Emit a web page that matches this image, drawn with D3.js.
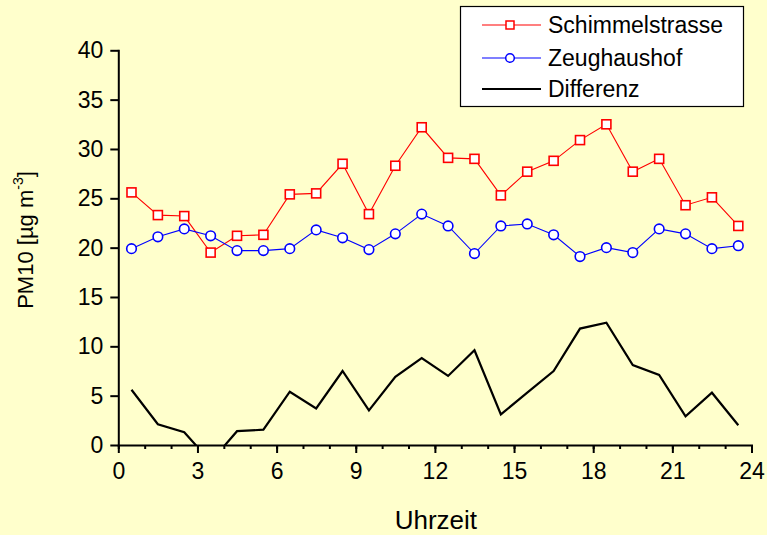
<!DOCTYPE html>
<html>
<head>
<meta charset="utf-8">
<script src="https://cdn.jsdelivr.net/npm/d3@7"></script>
<style>
  html, body { margin: 0; padding: 0; background: #FFFFCC; }
  svg { display: block; }
  text { font-family: "Liberation Sans", Arial, sans-serif; fill: #000; }
</style>
</head>
<body>
<svg id="chart" width="767" height="535"></svg>
<script>
// ---- data ----
const hours = [0.5,1.5,2.5,3.5,4.5,5.5,6.5,7.5,8.5,9.5,10.5,11.5,12.5,13.5,14.5,15.5,16.5,17.5,18.5,19.5,20.5,21.5,22.5,23.5];
const schimmelstrasse = [25.6,23.3,23.2,19.5,21.2,21.3,25.4,25.5,28.5,23.4,28.3,32.2,29.1,29.0,25.3,27.7,28.8,30.9,32.5,27.7,29.0,24.3,25.1,22.2];
const zeughaushof = [19.9,21.1,21.9,21.2,19.7,19.7,19.9,21.8,21.0,19.8,21.4,23.4,22.2,19.4,22.2,22.4,21.3,19.1,20.0,19.5,21.9,21.4,19.9,20.2];
const differenz = [5.6,2.1,1.3,-1.7,1.4,1.55,5.4,3.7,7.5,3.5,6.9,8.8,7.0,9.6,3.1,5.3,7.5,11.8,12.4,8.1,7.1,2.9,5.3,2.0];
const xTicks = [0,3,6,9,12,15,18,21,24];
const xMinorTicks = d3.range(0, 25, 1);
const yTicks = [0,5,10,15,20,25,30,35,40];
const seriesNames = ["Schimmelstrasse", "Zeughaushof", "Differenz"];

// ---- layout ----
const svg = d3.select("#chart");
const x = d3.scaleLinear().domain([0, 24]).range([118.3, 751.5]);
const y = d3.scaleLinear().domain([0, 40]).range([445, 50.3]);

svg.append("rect").attr("width", 767).attr("height", 535).attr("fill", "#FFFFCC");

// clip for plot area
svg.append("defs").append("clipPath").attr("id", "plotclip")
  .append("rect")
  .attr("x", x(0)).attr("y", y(40) - 10)
  .attr("width", x(24) - x(0)).attr("height", y(0) - y(40) + 10);

// difference line (clipped at 0)
const gPlot = svg.append("g").attr("clip-path", "url(#plotclip)");
const line = d3.line().x((d, i) => x(hours[i])).y(d => y(d));
gPlot.append("path")
  .datum(differenz)
  .attr("d", line)
  .attr("fill", "none")
  .attr("stroke", "#000")
  .attr("stroke-width", 2.2)
  .attr("stroke-linejoin", "miter");

// red / blue series
svg.append("path").datum(schimmelstrasse).attr("d", line)
  .attr("fill", "none").attr("stroke", "#FF0000").attr("stroke-width", 1.1);
svg.append("path").datum(zeughaushof).attr("d", line)
  .attr("fill", "none").attr("stroke", "#0000FF").attr("stroke-width", 1.1);

const sq = 9;
svg.append("g").selectAll("rect").data(schimmelstrasse).join("rect")
  .attr("x", (d, i) => x(hours[i]) - sq / 2)
  .attr("y", d => y(d) - sq / 2)
  .attr("width", sq).attr("height", sq)
  .attr("fill", "#fff").attr("stroke", "#FF0000").attr("stroke-width", 1.6);

svg.append("g").selectAll("circle").data(zeughaushof).join("circle")
  .attr("cx", (d, i) => x(hours[i]))
  .attr("cy", d => y(d))
  .attr("r", 4.8)
  .attr("fill", "#fff").attr("stroke", "#0000FF").attr("stroke-width", 1.6);

// ---- axes ----
const xMinor = svg.append("g").attr("transform", `translate(0,${y(0)})`)
  .call(d3.axisBottom(x).tickValues(xMinorTicks).tickSize(4).tickSizeOuter(0).tickFormat(""));
xMinor.select(".domain").remove();
xMinor.selectAll("line").attr("stroke-width", 2);

const xAxis = svg.append("g").attr("transform", `translate(0,${y(0)})`)
  .call(d3.axisBottom(x).tickValues(xTicks).tickSize(8).tickSizeOuter(0).tickPadding(10));
const yAxis = svg.append("g").attr("transform", `translate(${x(0)},0)`)
  .call(d3.axisLeft(y).tickValues(yTicks).tickSize(8).tickSizeOuter(0).tickPadding(7));

[xAxis, yAxis].forEach(g => {
  g.select(".domain").attr("stroke-width", 2).attr("stroke-linecap", "square");
  g.selectAll(".tick line").attr("stroke-width", 2);
  g.selectAll("text").attr("font-size", 23).attr("font-family", '"Liberation Sans", Arial, sans-serif').attr("fill", "#000");
});
xAxis.selectAll("text").attr("dy", "0.69em");

// axis titles
svg.append("text")
  .attr("x", (x(0) + x(24)) / 2 + 1)
  .attr("y", 529)
  .attr("text-anchor", "middle")
  .attr("font-size", 26)
  .text("Uhrzeit");

const yt = svg.append("text")
  .attr("transform", "translate(33,240) rotate(-90)")
  .attr("text-anchor", "middle")
  .attr("font-size", 22);
yt.append("tspan").text("PM10 [µg m");
yt.append("tspan").attr("font-size", 14).attr("dy", "-0.75em").text("-3");
yt.append("tspan").attr("dy", "0.48em").text("]");

// ---- legend ----
const lg = svg.append("g");
lg.append("rect").attr("x", 460.5).attr("y", 6.5).attr("width", 283).attr("height", 100)
  .attr("fill", "#fff").attr("stroke", "#000").attr("stroke-width", 1.2);
const rowsY = [25, 58, 89];
const colors = ["#FF0000", "#0000FF", "#000"];
seriesNames.forEach((name, i) => {
  const yy = rowsY[i];
  lg.append("line").attr("x1", 482).attr("x2", 541).attr("y1", yy).attr("y2", yy)
    .attr("stroke", colors[i]).attr("stroke-width", i === 2 ? 2.2 : 1.1);
  if (i === 0) {
    lg.append("rect").attr("x", 510 - 4).attr("y", yy - 4).attr("width", 8).attr("height", 8)
      .attr("fill", "#fff").attr("stroke", colors[i]).attr("stroke-width", 1.5);
  } else if (i === 1) {
    lg.append("circle").attr("cx", 510).attr("cy", yy).attr("r", 4.3)
      .attr("fill", "#fff").attr("stroke", colors[i]).attr("stroke-width", 1.5);
  }
  lg.append("text").attr("x", 548).attr("y", yy).attr("dy", "0.35em")
    .attr("font-size", 23).text(name);
});
</script>
</body>
</html>
